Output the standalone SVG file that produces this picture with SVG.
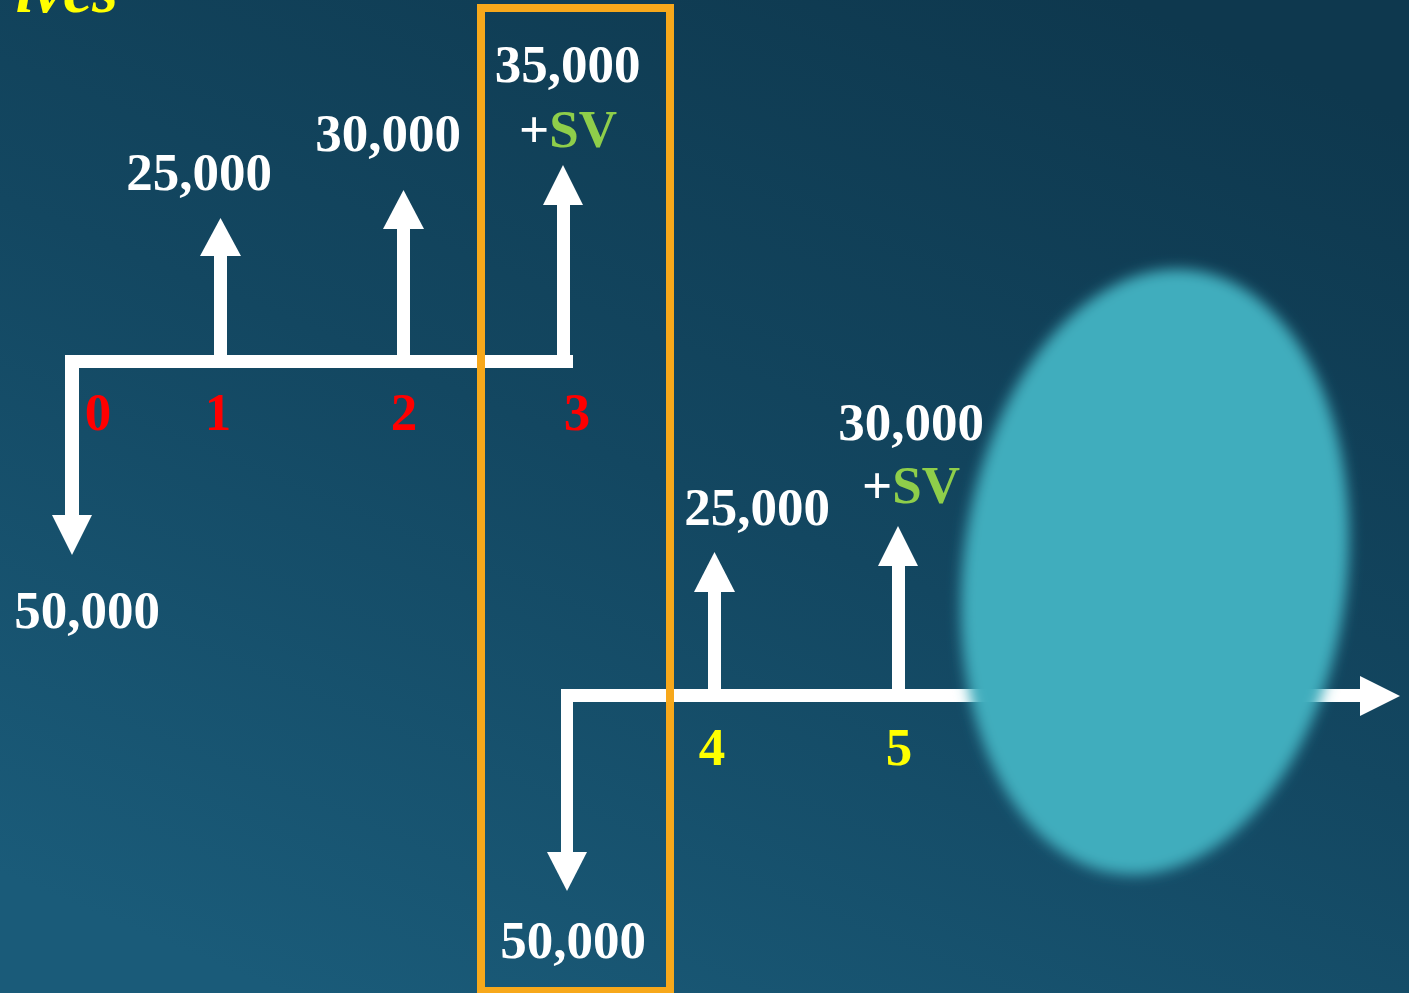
<svg xmlns="http://www.w3.org/2000/svg" width="1409" height="993" viewBox="0 0 1409 993">
<defs>
<linearGradient id="bg" x1="0.2" y1="1" x2="0.8" y2="0">
<stop offset="0" stop-color="#1a5b79"/>
<stop offset="0.5" stop-color="#134761"/>
<stop offset="1" stop-color="#0e384e"/>
</linearGradient>
<filter id="blur" x="-20%" y="-20%" width="140%" height="140%">
<feGaussianBlur stdDeviation="7"/>
</filter>
</defs>
<style>
.v{font-family:"Liberation Serif","Times New Roman",serif;font-weight:bold;font-size:53px;text-anchor:middle;fill:#ffffff}
.red{fill:#ff0000}
.yel{fill:#ffff00}
.grn{fill:#8fce4a}
.arr{fill:#ffffff}
</style>
<rect x="0" y="0" width="1409" height="993" fill="url(#bg)"/>
<text x="118" y="12" style="font-family:'Liberation Serif','Times New Roman',serif;font-weight:bold;font-style:italic;font-size:66px;fill:#ffff00;text-anchor:end">ives</text>
<g id="connectors">
<rect class="arr" x="66" y="355" width="507" height="13"/>
<rect class="arr" x="65" y="355" width="14" height="161"/>
<polygon class="arr" points="52,515 92,515 72,555"/>
<rect class="arr" x="214" y="255" width="13" height="101"/>
<polygon class="arr" points="200,256 241,256 220.5,218"/>
<rect class="arr" x="397" y="228" width="13" height="128"/>
<polygon class="arr" points="383,229 424,229 403.5,190"/>
<rect class="arr" x="557" y="204" width="13" height="152"/>
<polygon class="arr" points="543,205 583,205 563,165"/>
<rect class="arr" x="561" y="689" width="801" height="13"/>
<polygon class="arr" points="1360,676 1360,716 1400,696"/>
<rect class="arr" x="561" y="689" width="12" height="164"/>
<polygon class="arr" points="547,852 587,852 567,891"/>
<rect class="arr" x="708" y="591" width="13" height="99"/>
<polygon class="arr" points="694,592 735,592 714.5,552"/>
<rect class="arr" x="892" y="565" width="13" height="125"/>
<polygon class="arr" points="878,566 918,566 898,526"/>
</g>
<g id="highlight">
<rect x="481" y="8" width="189" height="983" fill="none" stroke="#f7a81b" stroke-width="8"/>
</g>
<g id="cover">
<ellipse cx="1155" cy="572" rx="192" ry="304" transform="rotate(7 1155 572)" fill="#40adbd" filter="url(#blur)"/>
</g>
<g id="t0">
<text class="v red" x="98" y="430">0</text>
<text class="v" x="87" y="628">50,000</text>
</g>
<g id="t1">
<text class="v red" x="218" y="430">1</text>
<text class="v" x="199" y="190">25,000</text>
</g>
<g id="t2">
<text class="v red" x="404" y="430">2</text>
<text class="v" x="388" y="151">30,000</text>
</g>
<g id="t3">
<text class="v red" x="577" y="430">3</text>
<text class="v" x="567.5" y="82">35,000</text>
<text class="v" x="568" y="147">+<tspan class="grn">SV</tspan></text>
</g>
<g id="t3b">
<text class="v" x="573" y="958">50,000</text>
</g>
<g id="t4">
<text class="v yel" x="712" y="765">4</text>
<text class="v" x="757" y="525">25,000</text>
</g>
<g id="t5">
<text class="v yel" x="899" y="765">5</text>
<text class="v" x="911" y="440">30,000</text>
<text class="v" x="911" y="503">+<tspan class="grn">SV</tspan></text>
</g>
</svg>
